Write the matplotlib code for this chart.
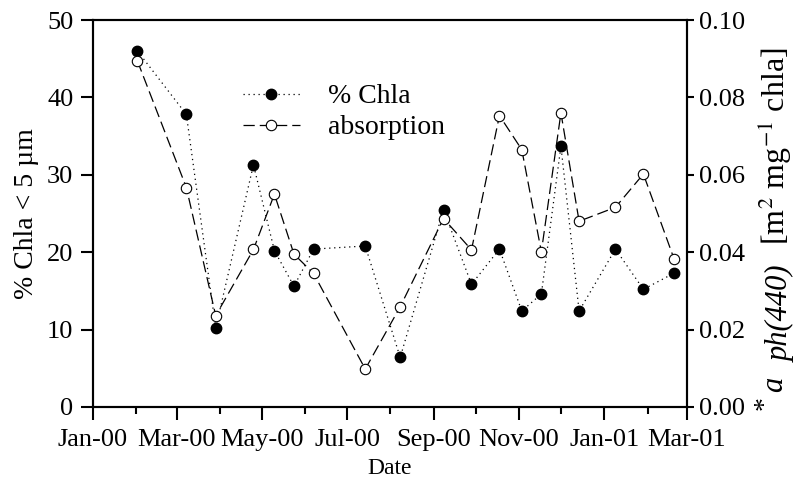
import matplotlib
matplotlib.use("Agg")
import matplotlib.pyplot as plt
import matplotlib.dates as mdates
import numpy as np
import pandas as pd

plt.rcParams['font.family'] = ['Liberation Serif', 'DejaVu Serif']
plt.rcParams['mathtext.fontset'] = 'stix'

dates = pd.to_datetime([
    "2000-02-02", "2000-03-08", "2000-03-29", "2000-04-25", "2000-05-10",
    "2000-05-24", "2000-06-07", "2000-07-14", "2000-08-08", "2000-09-08",
    "2000-09-28", "2000-10-18", "2000-11-03", "2000-11-17", "2000-12-01",
    "2000-12-14", "2001-01-09", "2001-01-29", "2001-02-20"])
chla_pct = [46.0, 37.8, 10.2, 31.3, 20.2, 15.6, 20.4, 20.8, 6.4, 25.5,
            15.85, 20.4, 12.4, 14.6, 33.7, 12.4, 20.4, 15.2, 17.3]
absorption = [0.0894, 0.0567, 0.0236, 0.0407, 0.0550, 0.0395, 0.0345, 0.0098,
              0.0259, 0.0487, 0.0406, 0.0753, 0.0665, 0.0401, 0.0760, 0.0480,
              0.0516, 0.0602, 0.0382]

fig = plt.figure(figsize=(8, 4.86), dpi=100)
ax = fig.add_axes([0.1159, 0.1626, 0.7425, 0.7962])
ax2 = ax.twinx()

l1, = ax.plot(dates, chla_pct, linestyle=(0, (1, 3)), color='black', lw=0.9,
              marker='o', markersize=7.5, markerfacecolor='black',
              markeredgecolor='black', label='% Chla', zorder=3)
l2, = ax2.plot(dates, absorption, linestyle=(0, (9, 4)), color='black', lw=0.9,
               marker='o', markersize=7.5, markerfacecolor='white',
               markeredgecolor='black', markeredgewidth=0.8,
               label='absorption', zorder=3)

ax.set_xlim(pd.Timestamp("2000-01-01"), pd.Timestamp("2001-03-01"))
ax.set_ylim(0, 50)
ax2.set_ylim(0, 0.10)
ax.set_yticks(np.arange(0, 51, 10))
ax2.set_yticks(np.arange(0, 0.101, 0.02))
ax2.yaxis.set_major_formatter(matplotlib.ticker.FormatStrFormatter('%.2f'))

ax.xaxis.set_major_locator(mdates.MonthLocator(bymonth=[1, 3, 5, 7, 9, 11]))
ax.xaxis.set_minor_locator(mdates.MonthLocator())
ax.xaxis.set_major_formatter(mdates.DateFormatter('%b-%y'))

for a in (ax, ax2):
    for s in a.spines.values():
        s.set_linewidth(1.5)
ax.tick_params(which='major', direction='out', length=9, width=1.5,
               labelsize=19, pad=5)
ax.tick_params(which='minor', direction='out', length=4.7, width=1.5)
ax.tick_params(axis='x', pad=7)
ax2.tick_params(which='major', direction='out', length=5, width=1.5,
                labelsize=19, pad=4)

ax.set_xlabel('Date', fontsize=17, labelpad=5)
ax.set_ylabel(r'% Chla < 5 µm', fontsize=20, labelpad=6)

# right axis label (pieces, rotated)
fig.text(0.957, 0.17, '*', rotation=90, fontsize=20, ha='center', va='center')
fig.text(0.968, 0.21, 'a', rotation=90, fontsize=22, style='italic',
         ha='center', va='center')
fig.text(0.976, 0.355, 'ph(440)', rotation=90, fontsize=22, style='italic',
         ha='center', va='center')
fig.text(0.968, 0.70, r'[m$^{2}$ mg$^{-1}$ chla]', rotation=90, fontsize=23,
         ha='center', va='center')

ax.legend(handles=[l1, l2], loc='upper left', bbox_to_anchor=(0.253, 0.835),
          frameon=False, fontsize=20, handlelength=2.05, handletextpad=1.0,
          labelspacing=0.2, numpoints=1, borderpad=0, borderaxespad=0)

fig.savefig('out.png', dpi=100)
